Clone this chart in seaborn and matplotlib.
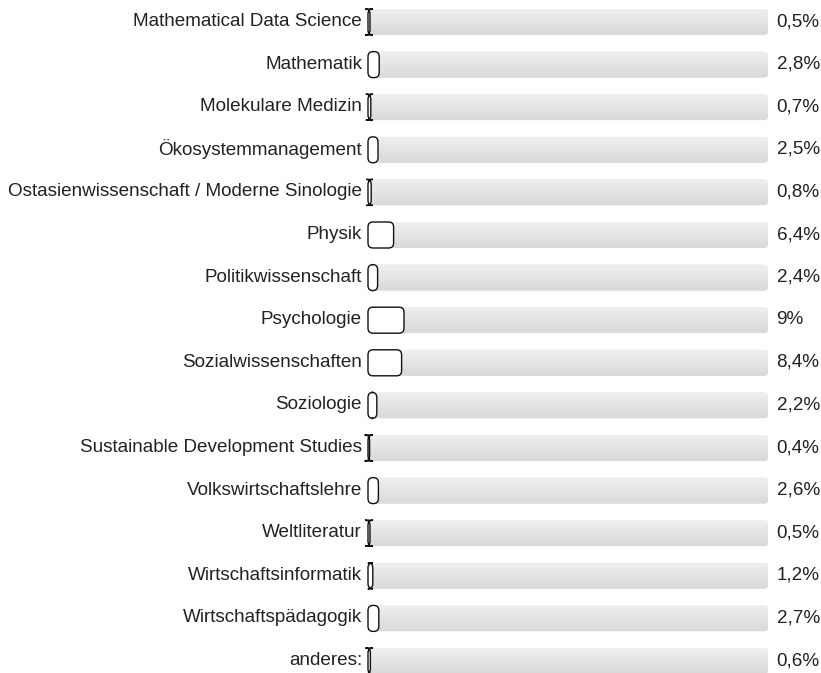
import matplotlib
matplotlib.use("Agg")
import matplotlib.pyplot as plt
from matplotlib.patches import FancyBboxPatch
from matplotlib.colors import LinearSegmentedColormap
from matplotlib.transforms import ScaledTranslation
import numpy as np
import seaborn as sns
import pandas as pd

categories = [
    "Mathematical Data Science", "Mathematik", "Molekulare Medizin",
    "Ökosystemmanagement", "Ostasienwissenschaft / Moderne Sinologie",
    "Physik", "Politikwissenschaft", "Psychologie", "Sozialwissenschaften",
    "Soziologie", "Sustainable Development Studies", "Volkswirtschaftslehre",
    "Weltliteratur", "Wirtschaftsinformatik", "Wirtschaftspädagogik", "anderes:",
]
values = [0.5, 2.8, 0.7, 2.5, 0.8, 6.4, 2.4, 9.0, 8.4, 2.2, 0.4, 2.6, 0.5, 1.2, 2.7, 0.6]
track = [100] * len(categories)

df = pd.DataFrame({"Studiengang": categories, "Anteil": values, "Track": track})

sns.set_style("white")
plt.rcParams["font.family"] = ["Liberation Sans", "DejaVu Sans"]

W, H = 821, 673
fig = plt.figure(figsize=(W / 100, H / 100), dpi=100)
ax_left, ax_right = 368, 768
ax = fig.add_axes([ax_left / W, 0, (ax_right - ax_left) / W, 1])

bar_h = 26 / 42.6
sns.barplot(data=df, x="Track", y="Studiengang", ax=ax, color="#e4e4e4",
            width=bar_h, orient="h")
n_track = len(ax.patches)
sns.barplot(data=df, x="Anteil", y="Studiengang", ax=ax, color="white",
            width=bar_h, orient="h")

y_top_px, row_px = 22, 42.6
xlim = (0, 100)
ylim = (15 + (H - 661) / row_px, -y_top_px / row_px)

px_x = 100 / (ax_right - ax_left)   # data units per pixel (x)
px_y = 1 / row_px                    # data units per pixel (y)
aspect = px_y / px_x

grad_cmap = LinearSegmentedColormap.from_list("trk", ["#efefef", "#d9d9d9"])
grad = np.linspace(0, 1, 64).reshape(-1, 1)

rects = list(ax.patches)
for i, p in enumerate(rects):
    x, y = p.get_x(), p.get_y()
    w, h = p.get_width(), p.get_height()
    if i < n_track:
        r = 4 * px_x
        fb = FancyBboxPatch((x, y), w, h, boxstyle=f"round,pad=0,rounding_size={r}",
                            mutation_aspect=aspect, facecolor="#e4e4e4",
                            edgecolor="none", zorder=1)
        ax.add_patch(fb)
        im = ax.imshow(grad, extent=[x, x + w, y + h, y], aspect="auto",
                       cmap=grad_cmap, zorder=1.5, interpolation="bilinear")
        im.set_clip_path(fb)
    else:
        r = 5 * px_x
        fb = FancyBboxPatch((x, y), w, h, boxstyle=f"round,pad=0,rounding_size={r}",
                            mutation_aspect=aspect, facecolor="white",
                            edgecolor="#111111", linewidth=1.0, zorder=3,
                            clip_on=False)
        ax.add_patch(fb)
    p.remove()

ax.set_xlim(*xlim)
ax.set_ylim(*ylim)

lift = ScaledTranslation(0, 2.5 / 100, fig.dpi_scale_trans)
fs = 13.6
for i, v in enumerate(values):
    s = (f"{v:g}").replace(".", ",") + "%"
    ax.text(100 + 8.5 * px_x, i, s, ha="left", va="center_baseline", fontsize=fs,
            color="#222222", clip_on=False, transform=ax.transData + lift)

ax.set_xlabel("")
ax.set_ylabel("")
ax.set_xticks([])
ax.tick_params(axis="y", length=0, pad=4.3, labelsize=fs, labelcolor="#222222")
for lab in ax.get_yticklabels():
    lab.set_transform(lab.get_transform() + lift)
for s in ax.spines.values():
    s.set_visible(False)
ax.set_facecolor("none")

fig.savefig("out.png", dpi=100, facecolor="white")
